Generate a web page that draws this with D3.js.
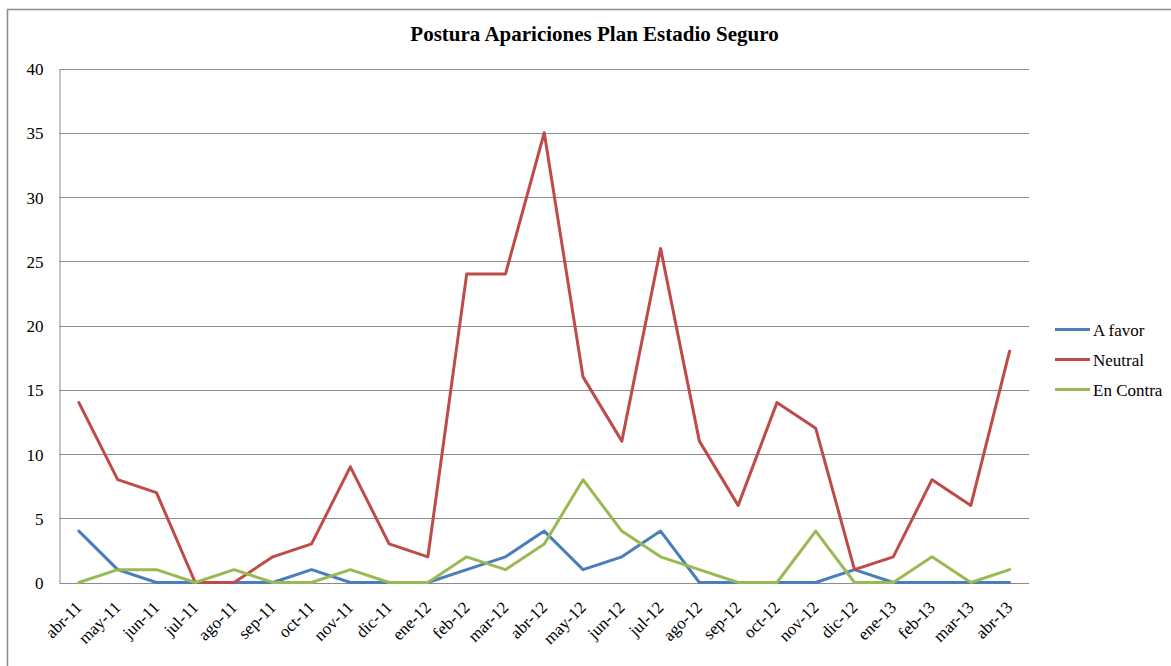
<!DOCTYPE html>
<html>
<head>
<meta charset="utf-8">
<script src="https://cdn.jsdelivr.net/npm/d3@7"></script>
</head>
<body style="margin:0">
<script>
// datos del grafico
const meses = ["abr-11", "may-11", "jun-11", "jul-11", "ago-11", "sep-11", "oct-11", "nov-11", "dic-11",
  "ene-12", "feb-12", "mar-12", "abr-12", "may-12", "jun-12", "jul-12", "ago-12", "sep-12", "oct-12",
  "nov-12", "dic-12", "ene-13", "feb-13", "mar-13", "abr-13"];
const aFavor = [4, 1, 0, 0, 0, 0, 1, 0, 0, 0, 1, 2, 4, 1, 2, 4, 0, 0, 0, 0, 1, 0, 0, 0, 0];
const neutral = [14, 8, 7, 0, 0, 2, 3, 9, 3, 2, 24, 24, 35, 16, 11, 26, 11, 6, 14, 12, 1, 2, 8, 6, 18];
const enContra = [0, 1, 1, 0, 1, 0, 0, 1, 0, 0, 2, 1, 3, 8, 4, 2, 1, 0, 0, 4, 0, 0, 2, 0, 1];
const yTicks = [0, 5, 10, 15, 20, 25, 30, 35, 40];
const series = [
  { nombre: "A favor", valores: aFavor, color: "#4A7EBB" },
  { nombre: "Neutral", valores: neutral, color: "#BE4B48" },
  { nombre: "En Contra", valores: enContra, color: "#98B954" }
];

const width = 1171, height = 666;
const plot = { left: 59.5, right: 1029, top: 68.5, bottom: 582.5 };
const fuente = "'Liberation Serif'";

const svg = d3.select("body").append("svg")
  .attr("width", width)
  .attr("height", height)
  .style("display", "block")
  .style("font-family", fuente);

// marco exterior
svg.append("rect")
  .attr("x", 7.5)
  .attr("y", 9.5)
  .attr("width", width + 20)
  .attr("height", height + 20)
  .attr("fill", "#ffffff")
  .attr("stroke", "#8c8c8c")
  .attr("stroke-width", 1.5);

svg.append("text")
  .text("Postura Apariciones Plan Estadio Seguro")
  .attr("x", 594.5)
  .attr("y", 41)
  .attr("text-anchor", "middle")
  .style("font-family", fuente)
  .style("font-size", "21px")
  .style("font-weight", "bold")
  .style("fill", "#000000");

const x = d3.scaleBand()
  .domain(meses)
  .range([plot.left, plot.right]);
const y = d3.scaleLinear()
  .domain([0, 40])
  .range([plot.bottom, plot.top]);

// lineas de grilla
svg.append("g")
  .selectAll("line")
  .data(yTicks)
  .join("line")
  .attr("x1", plot.left)
  .attr("x2", plot.right)
  .attr("y1", d => Math.round(y(d)) + 0.5)
  .attr("y2", d => Math.round(y(d)) + 0.5)
  .attr("stroke", "#8c8c8c")
  .attr("stroke-width", 1);

// eje y
const g_ejeY = svg.append("g")
  .attr("transform", "translate(" + plot.left + ",0)")
  .call(d3.axisLeft(y).tickValues(yTicks).tickSize(0).tickPadding(16));
g_ejeY.attr("font-family", null).attr("font-size", null);
g_ejeY.select(".domain").attr("stroke", "#8c8c8c");
g_ejeY.selectAll("text")
  .attr("dy", "0.36em")
  .style("font-family", fuente)
  .style("font-size", "17px")
  .style("fill", "#000000");

// eje x
const g_ejeX = svg.append("g")
  .attr("transform", "translate(0," + (Math.round(y(0)) + 0.5) + ")")
  .call(d3.axisBottom(x).tickSize(0).tickPadding(0));
g_ejeX.attr("font-family", null).attr("font-size", null);
g_ejeX.select(".domain").remove();
g_ejeX.selectAll("text")
  .attr("text-anchor", "end")
  .attr("dy", null)
  .attr("transform", "translate(4,25) rotate(-45)")
  .style("font-family", fuente)
  .style("font-size", "17px")
  .style("fill", "#000000");

// lineas de las series
const linea = d3.line()
  .x((d, i) => x(meses[i]) + x.bandwidth() / 2)
  .y(d => y(d));
svg.append("g")
  .selectAll("path")
  .data(series)
  .join("path")
  .attr("d", d => linea(d.valores))
  .attr("fill", "none")
  .attr("stroke", d => d.color)
  .attr("stroke-width", 3)
  .attr("stroke-linejoin", "round")
  .attr("stroke-linecap", "round");

// leyenda
const items = svg.append("g")
  .attr("transform", "translate(1055,329.5)")
  .selectAll("g")
  .data(series)
  .join("g")
  .attr("transform", (d, i) => "translate(0," + (i * 30) + ")");
items.append("line")
  .attr("x1", 0)
  .attr("x2", 35)
  .attr("stroke", d => d.color)
  .attr("stroke-width", 3);
items.append("text")
  .text(d => d.nombre)
  .attr("x", 38)
  .attr("y", 6)
  .style("font-family", fuente)
  .style("font-size", "17px")
  .style("fill", "#000000");
</script>
</body>
</html>
